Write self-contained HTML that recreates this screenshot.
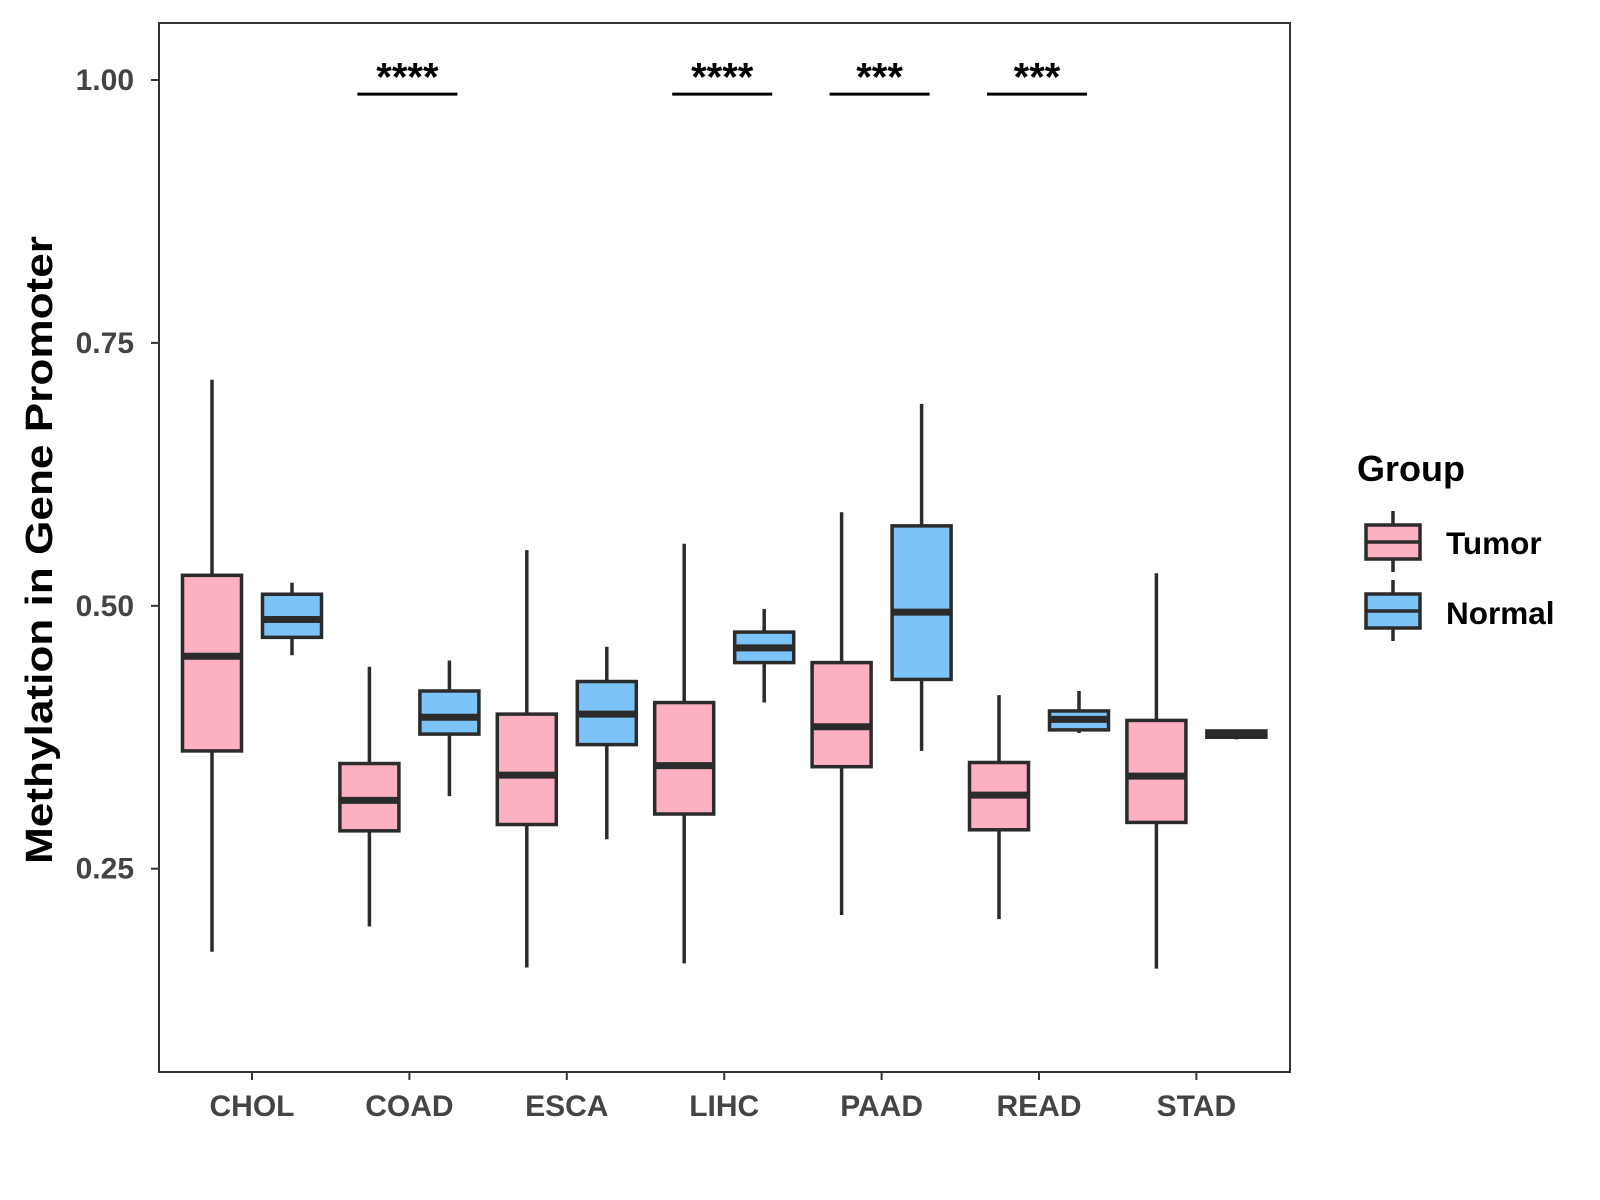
<!DOCTYPE html>
<html><head><meta charset="utf-8"><style>
html,body{margin:0;padding:0;background:#fff;}
svg{display:block;font-family:"Liberation Sans",Arial,sans-serif;}
</style></head><body>
<svg id="chart" width="1600" height="1200" viewBox="0 0 1600 1200" xmlns="http://www.w3.org/2000/svg">
<rect x="0" y="0" width="1600" height="1200" fill="#fff"/>
<g id="marks"></g>
<rect x="159" y="23" width="1131" height="1049" fill="none" stroke="#333" stroke-width="2"/>
<g id="axes"></g>
<text x="0" y="0" transform="translate(52,550) rotate(-90)" text-anchor="middle" font-size="38" font-weight="bold" fill="#000" textLength="628" lengthAdjust="spacingAndGlyphs">Methylation in Gene Promoter</text>
<g>
<text x="1357" y="481" font-size="36" font-weight="bold" fill="#000">Group</text>
<g>
<line x1="1393" y1="511" x2="1393" y2="572" stroke="#2b2b2b" stroke-width="3.5"/>
<rect x="1366" y="525" width="54" height="34" fill="#FCB0C2" stroke="#2b2b2b" stroke-width="3.5"/>
<line x1="1366" y1="542" x2="1420" y2="542" stroke="#2b2b2b" stroke-width="3.5"/>
<text x="1446" y="554" font-size="31.5" font-weight="bold" fill="#000">Tumor</text>
</g>
<g>
<line x1="1393" y1="580" x2="1393" y2="641" stroke="#2b2b2b" stroke-width="3.5"/>
<rect x="1366" y="594" width="54" height="34" fill="#7CC3F8" stroke="#2b2b2b" stroke-width="3.5"/>
<line x1="1366" y1="611" x2="1420" y2="611" stroke="#2b2b2b" stroke-width="3.5"/>
<text x="1446" y="624" font-size="31.5" font-weight="bold" fill="#000">Normal</text>
</g>
</g>
</svg>
<script>
const categories = ["CHOL","COAD","ESCA","LIHC","PAAD","READ","STAD"];
// [lowWhisker, q1, median, q3, highWhisker]
const tumorStats = [
 [0.171,0.362,0.452,0.529,0.715],
 [0.195,0.286,0.315,0.350,0.442],
 [0.156,0.292,0.339,0.397,0.553],
 [0.160,0.302,0.348,0.408,0.559],
 [0.206,0.347,0.385,0.446,0.589],
 [0.202,0.287,0.320,0.351,0.415],
 [0.155,0.294,0.338,0.391,0.531]
];
const normalStats = [
 [0.453,0.470,0.487,0.511,0.522],
 [0.319,0.378,0.394,0.419,0.448],
 [0.278,0.368,0.397,0.428,0.461],
 [0.408,0.446,0.460,0.475,0.497],
 [0.362,0.430,0.494,0.576,0.692],
 [0.379,0.382,0.392,0.400,0.419],
 [0.373,0.375,0.378,0.381,0.382]
];
const sigLabels = ["","****","","****","***","***",""];
const sigLevel = 0.987;
const yTicks = [0.25,0.50,0.75,1.00];
const yTickLabels = ["0.25","0.50","0.75","1.00"];

const NS="http://www.w3.org/2000/svg";
function y(v){ return 80 + (1 - v) * 1051.6; }
function x(i){ return 252 + i * 157.4; }
const OFF = 40, HALF = 29.5;
function mk(tag, attrs, parent){
  const e=document.createElementNS(NS,tag);
  for(const k in attrs) e.setAttribute(k,attrs[k]);
  parent.appendChild(e); return e;
}
const marks=document.getElementById('marks');
const axes=document.getElementById('axes');
function drawBox(cx, s, fill, name){
  const g=mk('g',{},marks);
  
  
  mk('line',{x1:cx,x2:cx,y1:y(s[4]),y2:y(s[3]),stroke:'#2b2b2b','stroke-width':3.5},g);
  mk('line',{x1:cx,x2:cx,y1:y(s[1]),y2:y(s[0]),stroke:'#2b2b2b','stroke-width':3.5},g);
  mk('rect',{x:cx-HALF,y:y(s[3]),width:2*HALF,height:Math.max(y(s[1])-y(s[3]),0.5),fill:fill,stroke:'#2b2b2b','stroke-width':3.5},g);
  mk('line',{x1:cx-HALF,x2:cx+HALF,y1:y(s[2]),y2:y(s[2]),stroke:'#2b2b2b','stroke-width':7},g);
}
categories.forEach((c,i)=>{
  drawBox(x(i)-OFF, tumorStats[i], '#FCB0C2', 'box-tumor-'+c.toLowerCase());
  drawBox(x(i)+OFF, normalStats[i], '#7CC3F8', 'box-normal-'+c.toLowerCase());
  if(sigLabels[i]){
    const g=mk('g',{},marks);
    
    
    mk('line',{x1:x(i)-52,x2:x(i)+48,y1:y(sigLevel)+0.5,y2:y(sigLevel)+0.5,stroke:'#000','stroke-width':3},g);
    const t=mk('text',{x:x(i)-2,y:y(sigLevel)-3,'text-anchor':'middle','font-size':40,'font-weight':'bold',fill:'#000'},g);
    t.textContent=sigLabels[i];
  }
  const tk=mk('line',{x1:x(i),x2:x(i),y1:1073,y2:1080,stroke:'#333','stroke-width':2},axes);
  
  
  const lb=mk('text',{x:x(i),y:1116,'text-anchor':'middle','font-size':30,'font-weight':'bold',fill:'#444'},axes);
  
  
  lb.textContent=c;
});
yTicks.forEach((v,i)=>{
  const tk=mk('line',{x1:151,x2:158,y1:y(v),y2:y(v),stroke:'#333','stroke-width':2},axes);
  
  
  const lb=mk('text',{x:134,y:y(v)+10,'text-anchor':'end','font-size':30,'font-weight':'bold',fill:'#444'},axes);
  
  
  lb.textContent=yTickLabels[i];
});
</script>
</body></html>
